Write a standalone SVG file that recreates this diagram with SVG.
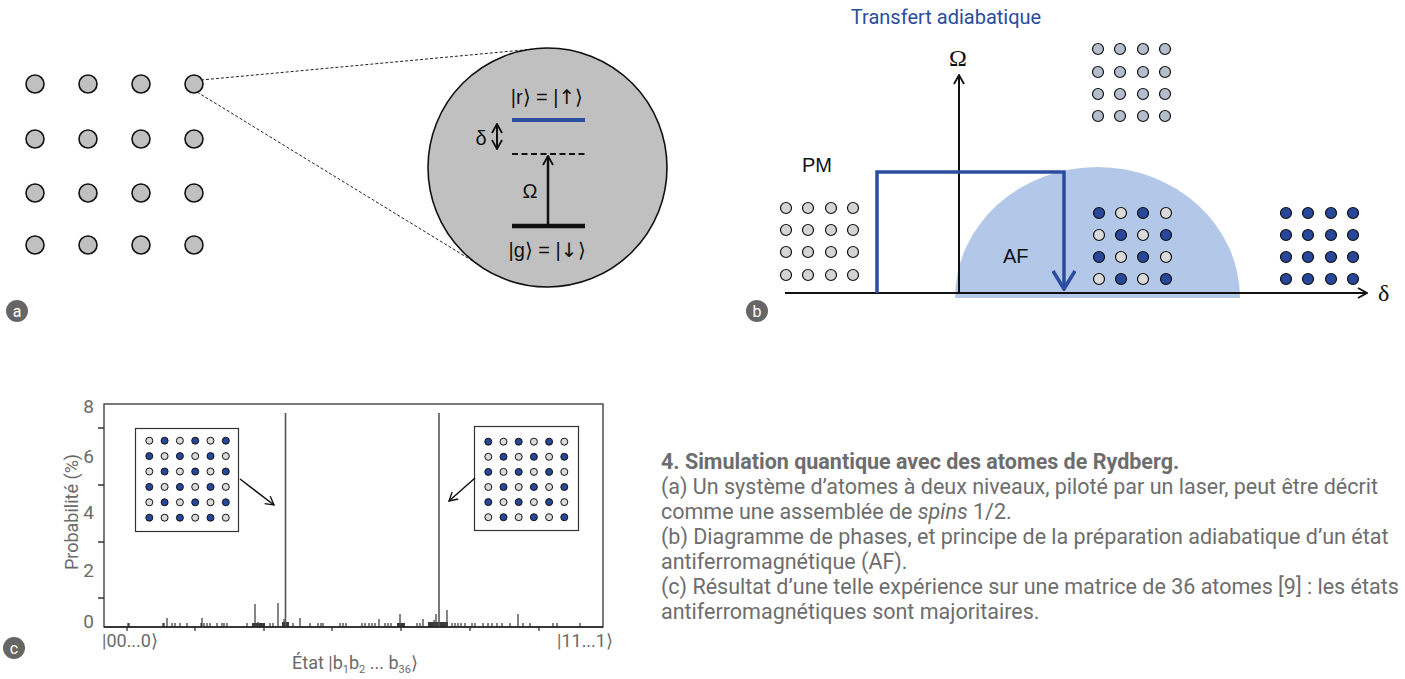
<svg xmlns="http://www.w3.org/2000/svg" width="1405" height="679" viewBox="0 0 1405 679">
<defs>
<style>
.atomA{fill:#c0c0c0;stroke:#111;stroke-width:1.6}
.sm{stroke:#111;stroke-width:1.2}
.pm{fill:#d4d4d4}
.top{fill:#b3bdcc}
.dk{fill:#27479a}
.lt{fill:#dadada}
.ins{stroke:#111;stroke-width:1}
.lbl{font-family:Roboto,"Liberation Sans",sans-serif;fill:#fff;font-size:16px;text-anchor:middle}
.ket{font-family:"Liberation Sans",Arial,sans-serif;font-size:20px;fill:#111}
.arr{font-family:"DejaVu Sans",sans-serif}
.gray{font-family:Roboto,"Liberation Sans",sans-serif;fill:#6a6a6a}
.cap{font-family:Roboto,"Liberation Sans",sans-serif;fill:#6d6d6d;font-size:21.5px}
</style>
<marker id="chevK" viewBox="0 0 12 12" refX="11" refY="6" markerWidth="12" markerHeight="12" markerUnits="userSpaceOnUse" orient="auto-start-reverse">
<path d="M2,1 L11,6 L2,11" fill="none" stroke="#111" stroke-width="1.8"/>
</marker>
<marker id="chevS" viewBox="0 0 12 12" refX="11" refY="6" markerWidth="11" markerHeight="11" markerUnits="userSpaceOnUse" orient="auto-start-reverse">
<path d="M2,1 L11,6 L2,11" fill="none" stroke="#111" stroke-width="1.5"/>
</marker>
<marker id="chevB" viewBox="0 0 24 24" refX="22" refY="12" markerWidth="24" markerHeight="24" markerUnits="userSpaceOnUse" orient="auto">
<path d="M4,1 L22,12 L4,23" fill="none" stroke="#2b4c9f" stroke-width="3.6"/>
</marker>
</defs>
<rect width="1405" height="679" fill="#fff"/>

<!-- Panel a -->
<g id="panel-a-grid">
<circle class="atomA" cx="35" cy="84" r="9"/><circle class="atomA" cx="88" cy="84" r="9"/><circle class="atomA" cx="141" cy="84" r="9"/><circle class="atomA" cx="194" cy="84" r="9"/>
<circle class="atomA" cx="35" cy="139" r="9"/><circle class="atomA" cx="88" cy="139" r="9"/><circle class="atomA" cx="141" cy="139" r="9"/><circle class="atomA" cx="194" cy="139" r="9"/>
<circle class="atomA" cx="35" cy="193" r="9"/><circle class="atomA" cx="88" cy="193" r="9"/><circle class="atomA" cx="141" cy="193" r="9"/><circle class="atomA" cx="194" cy="193" r="9"/>
<circle class="atomA" cx="35" cy="245" r="9"/><circle class="atomA" cx="88" cy="245" r="9"/><circle class="atomA" cx="141" cy="245" r="9"/><circle class="atomA" cx="194" cy="245" r="9"/>
</g>
<g id="zoom-lines" fill="none" stroke="#222" stroke-width="1" stroke-dasharray="3,2">
<line x1="201" y1="80" x2="545" y2="48"/>
<line x1="197" y1="92" x2="476" y2="263"/>
</g>
<g id="atom-zoom">
<circle cx="547.5" cy="167.5" r="119.5" fill="#c0c0c0" stroke="#111" stroke-width="1.6"/>
<text class="ket" x="547" y="104" text-anchor="middle">|r⟩ = |<tspan class="arr">↑</tspan>⟩</text>
<line x1="512" y1="120" x2="585" y2="120" stroke="#2b4c9f" stroke-width="4"/>
<line x1="512" y1="154" x2="585" y2="154" stroke="#111" stroke-width="2" stroke-dasharray="6,3.5"/>
<line x1="512" y1="226" x2="585" y2="226" stroke="#111" stroke-width="4.5"/>
<line x1="548" y1="225" x2="548" y2="156" stroke="#111" stroke-width="2.5" marker-end="url(#chevK)"/>
<line x1="497" y1="124" x2="497" y2="149" stroke="#111" stroke-width="2" marker-start="url(#chevK)" marker-end="url(#chevK)"/>
<text class="ket" x="481" y="145" text-anchor="middle" font-size="22">δ</text>
<text class="ket" x="530" y="198" text-anchor="middle" font-size="22">Ω</text>
<text class="ket" x="547" y="257" text-anchor="middle">|g⟩ = |<tspan class="arr">↓</tspan>⟩</text>
</g>
<g id="label-a"><circle cx="17" cy="311" r="11" fill="#666"/><text class="lbl" x="17" y="317">a</text></g>

<!-- Panel b -->
<g id="title-b"><text x="946" y="24" text-anchor="middle" font-family="Roboto, 'Liberation Sans', sans-serif" font-size="20" fill="#2b4c9f">Transfert adiabatique</text></g>
<g id="af-region"><path d="M955,298 A142.5,131 0 0 1 1240,298 Z" fill="#b3c8e8"/></g>
<g id="axes" stroke="#111" stroke-width="2" fill="none">
<line x1="785" y1="293" x2="1367" y2="293" marker-end="url(#chevK)"/>
<line x1="959" y1="293" x2="959" y2="75" marker-end="url(#chevK)"/>
</g>
<text x="958" y="66" text-anchor="middle" font-family="'Liberation Serif', serif" font-size="24" fill="#111">Ω</text>
<text x="1378" y="301" font-family="'Liberation Serif', serif" font-size="24" fill="#111">δ</text>
<g id="transfer-path"><path d="M877,293 V172 H1064 V289" fill="none" stroke="#2b4c9f" stroke-width="3.5" marker-end="url(#chevB)"/></g>
<text x="802" y="172" font-family="'Liberation Sans', Arial, sans-serif" font-size="20" fill="#111">PM</text>
<text x="1003" y="263" font-family="'Liberation Sans', Arial, sans-serif" font-size="20" fill="#111">AF</text>
<g id="grid-pm" class="sm pm">
<circle cx="786" cy="208" r="5.5"/><circle cx="808" cy="208" r="5.5"/><circle cx="831" cy="208" r="5.5"/><circle cx="853" cy="208" r="5.5"/>
<circle cx="786" cy="230" r="5.5"/><circle cx="808" cy="230" r="5.5"/><circle cx="831" cy="230" r="5.5"/><circle cx="853" cy="230" r="5.5"/>
<circle cx="786" cy="252" r="5.5"/><circle cx="808" cy="252" r="5.5"/><circle cx="831" cy="252" r="5.5"/><circle cx="853" cy="252" r="5.5"/>
<circle cx="786" cy="275" r="5.5"/><circle cx="808" cy="275" r="5.5"/><circle cx="831" cy="275" r="5.5"/><circle cx="853" cy="275" r="5.5"/>
</g>
<g id="grid-top" class="sm top">
<circle cx="1098" cy="49" r="5.5"/><circle cx="1120" cy="49" r="5.5"/><circle cx="1143" cy="49" r="5.5"/><circle cx="1165" cy="49" r="5.5"/>
<circle cx="1098" cy="72" r="5.5"/><circle cx="1120" cy="72" r="5.5"/><circle cx="1143" cy="72" r="5.5"/><circle cx="1165" cy="72" r="5.5"/>
<circle cx="1098" cy="94" r="5.5"/><circle cx="1120" cy="94" r="5.5"/><circle cx="1143" cy="94" r="5.5"/><circle cx="1165" cy="94" r="5.5"/>
<circle cx="1098" cy="116" r="5.5"/><circle cx="1120" cy="116" r="5.5"/><circle cx="1143" cy="116" r="5.5"/><circle cx="1165" cy="116" r="5.5"/>
</g>
<g id="grid-af" class="sm">
<circle class="dk" cx="1099" cy="213" r="5.5"/><circle class="lt" cx="1121" cy="213" r="5.5"/><circle class="dk" cx="1143" cy="213" r="5.5"/><circle class="lt" cx="1166" cy="213" r="5.5"/>
<circle class="lt" cx="1099" cy="235" r="5.5"/><circle class="dk" cx="1121" cy="235" r="5.5"/><circle class="lt" cx="1143" cy="235" r="5.5"/><circle class="dk" cx="1166" cy="235" r="5.5"/>
<circle class="dk" cx="1099" cy="257" r="5.5"/><circle class="lt" cx="1121" cy="257" r="5.5"/><circle class="dk" cx="1143" cy="257" r="5.5"/><circle class="lt" cx="1166" cy="257" r="5.5"/>
<circle class="lt" cx="1099" cy="279" r="5.5"/><circle class="dk" cx="1121" cy="279" r="5.5"/><circle class="lt" cx="1143" cy="279" r="5.5"/><circle class="dk" cx="1166" cy="279" r="5.5"/>
</g>
<g id="grid-right" class="sm dk">
<circle cx="1286" cy="213" r="5.5"/><circle cx="1308" cy="213" r="5.5"/><circle cx="1331" cy="213" r="5.5"/><circle cx="1353" cy="213" r="5.5"/>
<circle cx="1286" cy="235" r="5.5"/><circle cx="1308" cy="235" r="5.5"/><circle cx="1331" cy="235" r="5.5"/><circle cx="1353" cy="235" r="5.5"/>
<circle cx="1286" cy="257" r="5.5"/><circle cx="1308" cy="257" r="5.5"/><circle cx="1331" cy="257" r="5.5"/><circle cx="1353" cy="257" r="5.5"/>
<circle cx="1286" cy="279" r="5.5"/><circle cx="1308" cy="279" r="5.5"/><circle cx="1331" cy="279" r="5.5"/><circle cx="1353" cy="279" r="5.5"/>
</g>
<g id="label-b"><circle cx="757" cy="311" r="11" fill="#666"/><text class="lbl" x="757" y="317">b</text></g>

<!-- Panel c -->
<g id="plot">
<rect x="104" y="404" width="499" height="223" fill="none" stroke="#333" stroke-width="1.3"/>
<path d="M98,428h6M98,485h6M98,542h6M98,598h6M127,627v4M195,627v4M264,627v4M332,627v4M401,627v4M470,627v4M539,627v4" stroke="#333" stroke-width="1.3"/>
<g class="gray" font-size="19" text-anchor="end">
<text x="94" y="413">8</text><text x="94" y="463">6</text><text x="94" y="519">4</text><text x="94" y="577">2</text><text x="94" y="628">0</text>
</g>
<text class="gray" font-size="18" transform="translate(78,512) rotate(-90)" text-anchor="middle">Probabilité (%)</text>
<text class="gray" font-size="18" x="102" y="647">|00...0⟩</text>
<text class="gray" font-size="18" x="557" y="647">|11...1⟩</text>
<text class="gray" font-size="18" x="355" y="669" text-anchor="middle">État |b<tspan font-size="11" dy="4">1</tspan><tspan dy="-4">b</tspan><tspan font-size="11" dy="4">2</tspan><tspan dy="-4"> ... b</tspan><tspan font-size="11" dy="4">36</tspan><tspan dy="-4">⟩</tspan></text>
<g id="bars" fill="#3a3a3a">
<rect x="252" y="623" width="13" height="4"/><rect x="282" y="622" width="7" height="5"/><rect x="397" y="623" width="8" height="4"/><rect x="428" y="622" width="20" height="5"/>
</g>
<path d="M128,627v-4M129,627v-4M163,627v-4M164,627v-4M167,627v-9M172,627v-4M175,627v-4M180,627v-4M187,627v-4M201,627v-4M202,627v-9M204,627v-4M207,627v-4M210,627v-4M217,627v-4M222,627v-4M224,627v-4M227,627v-4M247,627v-4M255,627v-23M258,627v-5M270,627v-4M273,627v-4M278,627v-24M284,627v-8M293,627v-4M300,627v-9M310,627v-4M318,627v-4M321,627v-4M323,627v-4M340,627v-4M343,627v-4M346,627v-4M362,627v-4M365,627v-4M369,627v-4M372,627v-4M375,627v-4M379,627v-8M385,627v-4M388,627v-4M391,627v-4M400,627v-13M417,627v-4M420,627v-4M423,627v-8M434,627v-7M436,627v-13M447,627v-17M452,627v-4M455,627v-4M458,627v-4M461,627v-4M465,627v-4M472,627v-4M475,627v-4M483,627v-4M488,627v-4M492,627v-4M497,627v-4M502,627v-4M510,627v-4M518,627v-13M523,627v-4M530,627v-4M553,627v-4M557,627v-4M580,627v-4" stroke="#444" stroke-width="1.3" fill="none"/>
<path d="M285.5,627V413M439,627V413" stroke="#555" stroke-width="1.6"/>
<line x1="104" y1="627" x2="603" y2="627" stroke="#222" stroke-width="1.6"/>
</g>
<g id="inset-left">
<rect x="135.5" y="428.5" width="103" height="103" fill="#fff" stroke="#333" stroke-width="1.2"/>
<g class="ins">
<circle class="lt" cx="149.3" cy="440.7" r="3.5"/><circle class="dk" cx="164.6" cy="440.7" r="3.5"/><circle class="lt" cx="179.9" cy="440.7" r="3.5"/><circle class="dk" cx="195.2" cy="440.7" r="3.5"/><circle class="lt" cx="210.5" cy="440.7" r="3.5"/><circle class="dk" cx="225.8" cy="440.7" r="3.5"/>
<circle class="dk" cx="149.3" cy="456.1" r="3.5"/><circle class="lt" cx="164.6" cy="456.1" r="3.5"/><circle class="dk" cx="179.9" cy="456.1" r="3.5"/><circle class="lt" cx="195.2" cy="456.1" r="3.5"/><circle class="dk" cx="210.5" cy="456.1" r="3.5"/><circle class="lt" cx="225.8" cy="456.1" r="3.5"/>
<circle class="lt" cx="149.3" cy="471.5" r="3.5"/><circle class="dk" cx="164.6" cy="471.5" r="3.5"/><circle class="lt" cx="179.9" cy="471.5" r="3.5"/><circle class="dk" cx="195.2" cy="471.5" r="3.5"/><circle class="lt" cx="210.5" cy="471.5" r="3.5"/><circle class="dk" cx="225.8" cy="471.5" r="3.5"/>
<circle class="dk" cx="149.3" cy="486.9" r="3.5"/><circle class="lt" cx="164.6" cy="486.9" r="3.5"/><circle class="dk" cx="179.9" cy="486.9" r="3.5"/><circle class="lt" cx="195.2" cy="486.9" r="3.5"/><circle class="dk" cx="210.5" cy="486.9" r="3.5"/><circle class="lt" cx="225.8" cy="486.9" r="3.5"/>
<circle class="lt" cx="149.3" cy="502.3" r="3.5"/><circle class="dk" cx="164.6" cy="502.3" r="3.5"/><circle class="lt" cx="179.9" cy="502.3" r="3.5"/><circle class="dk" cx="195.2" cy="502.3" r="3.5"/><circle class="lt" cx="210.5" cy="502.3" r="3.5"/><circle class="dk" cx="225.8" cy="502.3" r="3.5"/>
<circle class="dk" cx="149.3" cy="517.7" r="3.5"/><circle class="lt" cx="164.6" cy="517.7" r="3.5"/><circle class="dk" cx="179.9" cy="517.7" r="3.5"/><circle class="lt" cx="195.2" cy="517.7" r="3.5"/><circle class="dk" cx="210.5" cy="517.7" r="3.5"/><circle class="lt" cx="225.8" cy="517.7" r="3.5"/>
</g>
</g>
<g id="inset-right">
<rect x="474.5" y="426.5" width="104" height="104" fill="#fff" stroke="#333" stroke-width="1.2"/>
<g class="ins">
<circle class="dk" cx="488.3" cy="441.7" r="3.5"/><circle class="lt" cx="503.5" cy="441.7" r="3.5"/><circle class="dk" cx="518.7" cy="441.7" r="3.5"/><circle class="lt" cx="533.9" cy="441.7" r="3.5"/><circle class="dk" cx="549.1" cy="441.7" r="3.5"/><circle class="lt" cx="564.3" cy="441.7" r="3.5"/>
<circle class="lt" cx="488.3" cy="456.8" r="3.5"/><circle class="dk" cx="503.5" cy="456.8" r="3.5"/><circle class="lt" cx="518.7" cy="456.8" r="3.5"/><circle class="dk" cx="533.9" cy="456.8" r="3.5"/><circle class="lt" cx="549.1" cy="456.8" r="3.5"/><circle class="dk" cx="564.3" cy="456.8" r="3.5"/>
<circle class="dk" cx="488.3" cy="471.9" r="3.5"/><circle class="lt" cx="503.5" cy="471.9" r="3.5"/><circle class="dk" cx="518.7" cy="471.9" r="3.5"/><circle class="lt" cx="533.9" cy="471.9" r="3.5"/><circle class="dk" cx="549.1" cy="471.9" r="3.5"/><circle class="lt" cx="564.3" cy="471.9" r="3.5"/>
<circle class="lt" cx="488.3" cy="487" r="3.5"/><circle class="dk" cx="503.5" cy="487" r="3.5"/><circle class="lt" cx="518.7" cy="487" r="3.5"/><circle class="dk" cx="533.9" cy="487" r="3.5"/><circle class="lt" cx="549.1" cy="487" r="3.5"/><circle class="dk" cx="564.3" cy="487" r="3.5"/>
<circle class="dk" cx="488.3" cy="502.1" r="3.5"/><circle class="lt" cx="503.5" cy="502.1" r="3.5"/><circle class="dk" cx="518.7" cy="502.1" r="3.5"/><circle class="lt" cx="533.9" cy="502.1" r="3.5"/><circle class="dk" cx="549.1" cy="502.1" r="3.5"/><circle class="lt" cx="564.3" cy="502.1" r="3.5"/>
<circle class="lt" cx="488.3" cy="517.2" r="3.5"/><circle class="dk" cx="503.5" cy="517.2" r="3.5"/><circle class="lt" cx="518.7" cy="517.2" r="3.5"/><circle class="dk" cx="533.9" cy="517.2" r="3.5"/><circle class="lt" cx="549.1" cy="517.2" r="3.5"/><circle class="dk" cx="564.3" cy="517.2" r="3.5"/>
</g>
</g>
<g id="connectors" stroke="#111" stroke-width="1.5" fill="none">
<line x1="240" y1="479" x2="274" y2="505" marker-end="url(#chevS)"/>
<line x1="475" y1="478" x2="449" y2="501" marker-end="url(#chevS)"/>
</g>
<g id="label-c"><circle cx="14" cy="648" r="11" fill="#666"/><text class="lbl" x="14" y="654">c</text></g>

<!-- Caption -->
<g id="caption" class="cap">
<text x="661" y="469" font-weight="bold">4. Simulation quantique avec des atomes de Rydberg.</text>
<text x="661" y="494">(a) Un système d’atomes à deux niveaux, piloté par un laser, peut être décrit</text>
<text x="661" y="519">comme une assemblée de <tspan font-style="italic">spins</tspan> 1/2.</text>
<text x="661" y="544">(b) Diagramme de phases, et principe de la préparation adiabatique d’un état</text>
<text x="661" y="569">antiferromagnétique (AF).</text>
<text x="661" y="594">(c) Résultat d’une telle expérience sur une matrice de 36 atomes [9] : les états</text>
<text x="661" y="619">antiferromagnétiques sont majoritaires.</text>
</g>
</svg>
